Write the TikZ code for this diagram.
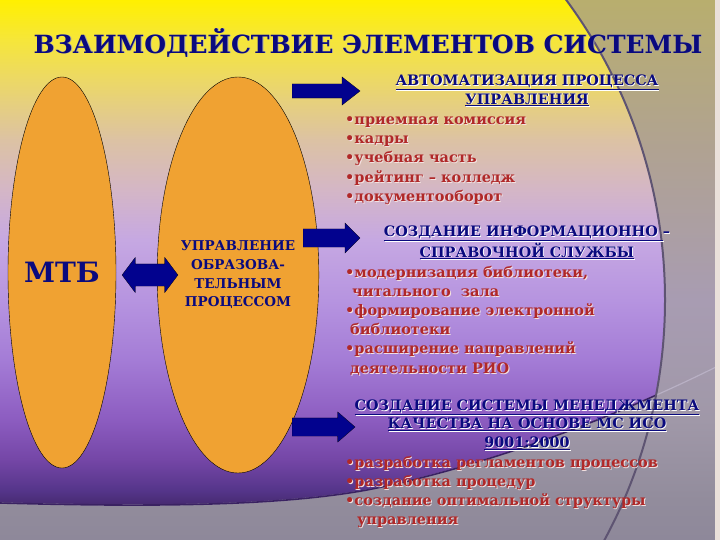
\documentclass[tikz,border=0pt]{standalone}
\usepackage{fontspec}
\setmainfont{DejaVu Serif}
\usepackage{tikz}
\usetikzlibrary{positioning,shapes.geometric,shapes.arrows}

\definecolor{navy}{HTML}{0A0A7E}
\definecolor{brick}{HTML}{B02828}
\definecolor{ovalfill}{HTML}{F0A232}
\definecolor{arrowblue}{HTML}{02028E}
\definecolor{lightpink}{HTML}{F4E2E2}
\definecolor{arcline}{HTML}{5E5472}
\definecolor{curveline}{HTML}{3A2262}
\definecolor{curvelight}{HTML}{B8B0C4}
\definecolor{edgelight}{HTML}{EAE0DA}
% background stops
\definecolor{bg0}{HTML}{3C2468}
\definecolor{bg1}{HTML}{45296F}
\definecolor{bg2}{HTML}{55358A}
\definecolor{bg3}{HTML}{7446A6}
\definecolor{bg4}{HTML}{8C5CC0}
\definecolor{bg5}{HTML}{A47CD6}
\definecolor{bg6}{HTML}{B694E0}
\definecolor{bg7}{HTML}{C6A8E2}
\definecolor{bg8}{HTML}{D4B6C6}
\definecolor{bg9}{HTML}{DCC2A4}
\definecolor{bg10}{HTML}{ECD866}
\definecolor{bg11}{HTML}{F6E63A}
\definecolor{bg12}{HTML}{FFF000}
\definecolor{gr0}{HTML}{8E889A}
\definecolor{gr1}{HTML}{928C9C}
\definecolor{gr2}{HTML}{A098A8}
\definecolor{gr3}{HTML}{A89CB2}
\definecolor{gr4}{HTML}{B0A292}
\definecolor{gr5}{HTML}{B8AE6E}

\pgfdeclareverticalshading{bright}{100bp}{color(0bp)=(bg0);
  color(25bp)=(bg0); color(28.2bp)=(bg1); color(29.6bp)=(bg2);
  color(32.4bp)=(bg3); color(36.1bp)=(bg4); color(41.7bp)=(bg5);
  color(47.2bp)=(bg6); color(52.8bp)=(bg7); color(57.4bp)=(bg8);
  color(62bp)=(bg9); color(67.6bp)=(bg10); color(71.3bp)=(bg11);
  color(75bp)=(bg12); color(100bp)=(bg12)}
\pgfdeclareverticalshading{greyside}{100bp}{color(0bp)=(gr0);
  color(25bp)=(gr0); color(28.7bp)=(gr1); color(36.1bp)=(gr2);
  color(47.2bp)=(gr3); color(61.1bp)=(gr4); color(75bp)=(gr5);
  color(100bp)=(gr5)}

% text with a shadow
\newcommand{\shd}[2]{\rlap{\kern0.9pt\raisebox{-0.9pt}{\color{#1}#2}}#2}
\newcommand{\hl}[1]{\shd{white}{\underline{#1}}}
\newcommand{\il}[1]{\shd{lightpink}{#1}}

\begin{document}
\begin{tikzpicture}[x=1pt,y=-1pt,
    oval node/.style={ellipse,draw=black,thin,fill=ovalfill,inner sep=0pt,
      text=navy,align=center},
    block arrow/.style={single arrow,draw=black,very thin,fill=arrowblue,
      inner xsep=0pt,anchor=tail},
    head text/.style={text=navy,align=center,
      font=\fontsize{14.4}{18.6}\selectfont\bfseries},
    item text/.style={text=brick,align=left,anchor=west,inner sep=0pt,
      font=\fontsize{14.5}{19.2}\selectfont\bfseries}]
  \useasboundingbox (0,0) rectangle (720,540);
  \clip (0,0) rectangle (720,540);

  % background
  \shade[shading=greyside] (0,0) rectangle (720,540);
  \begin{scope}
    \clip (160,300) circle (505pt);
    \clip (0,0) -- (0,503) .. controls (180,508) and (290,504) .. (367,490)
      .. controls (470,470) and (600,425) .. (720,365) -- (720,0) -- cycle;
    \shade[shading=bright] (0,0) rectangle (720,540);
  \end{scope}
  \draw[curvelight,line width=1.2pt] (0,503) .. controls (180,508) and (290,504) .. (367,490)
      .. controls (470,470) and (600,425) .. (720,365);
  \begin{scope}
    \clip (160,300) circle (505pt);
    \draw[curveline,line width=1.6pt] (0,503) .. controls (180,508) and (290,504) .. (367,490)
      .. controls (470,470) and (600,425) .. (720,365);
  \end{scope}
  \draw[arcline,line width=2pt] (160,300) circle (505pt);
  \fill[edgelight] (715,0) rectangle (720,540);

  \node[text=navy,font=\fontsize{25}{30}\selectfont\bfseries] (0) at (368,43)
    {\shd{gray!70}{ВЗАИМОДЕЙСТВИЕ ЭЛЕМЕНТОВ СИСТЕМЫ}};

  \node[oval node,minimum width=108pt,minimum height=391pt,
    font=\fontsize{28}{32}\selectfont\bfseries] (1) at (62,272.5) {МТБ};
  \node[oval node,minimum width=119pt,minimum height=396pt,right of=1,
    node distance=176pt,yshift=-2.5pt,font=\fontsize{13.5}{18.6}\selectfont\bfseries] (2)
    {УПРАВЛЕНИЕ\\ОБРАЗОВА-\\ТЕЛЬНЫМ\\ПРОЦЕССОМ};
  \node[double arrow,draw=black,very thin,fill=arrowblue,inner xsep=0pt,
    inner ysep=11pt,minimum height=56pt,double arrow head extend=6.5pt,
    double arrow tip angle=106,right of=1,node distance=88pt,yshift=-2.5pt] (3) {};

  \node[block arrow,minimum height=68pt,inner ysep=7pt,single arrow head extend=7pt,
    single arrow tip angle=76] (4) at (292,91) {};
  \node[block arrow,minimum height=57pt,inner ysep=9pt,single arrow head extend=6pt,
    single arrow tip angle=90] (5) at (303,238) {};
  \node[block arrow,minimum height=63pt,inner ysep=9pt,single arrow head extend=6pt,
    single arrow tip angle=82] (6) at (292,427) {};

  \node[head text] (7) at (527,91)
    {\hl{АВТОМАТИЗАЦИЯ ПРОЦЕССА}\\\hl{УПРАВЛЕНИЯ}};
  \node[item text] (8) at (345,161)
    {\il{•приемная комиссия}\\\il{•кадры}\\\il{•учебная часть}\\
     \il{•рейтинг – колледж}\\\il{•документооборот}};

  \node[head text] (9) at (527,243)
    {\shd{white}{\underline{СОЗДАНИЕ ИНФОРМАЦИОННО\ }–}\\\hl{СПРАВОЧНОЙ СЛУЖБЫ}};
  \node[item text] (10) at (345,321)
    {\il{•модернизация библиотеки,}\\\hspace{7pt}\il{читального\ \ зала}\\
     \il{•формирование электронной}\\\hspace{5pt}\il{библиотеки}\\
     \il{•расширение направлений}\\\hspace{5pt}\il{деятельности РИО}};

  \node[head text] (11) at (527,425)
    {\hl{СОЗДАНИЕ СИСТЕМЫ МЕНЕДЖМЕНТА}\\\hl{КАЧЕСТВА НА ОСНОВЕ МС ИСО}\\\hl{9001:2000}};
  \node[item text] (12) at (345,492.5)
    {\il{•разработка регламентов процессов}\\\il{•разработка процедур}\\
     \il{•создание оптимальной структуры}\\\hspace{12pt}\il{управления}};
\end{tikzpicture}
\end{document}
